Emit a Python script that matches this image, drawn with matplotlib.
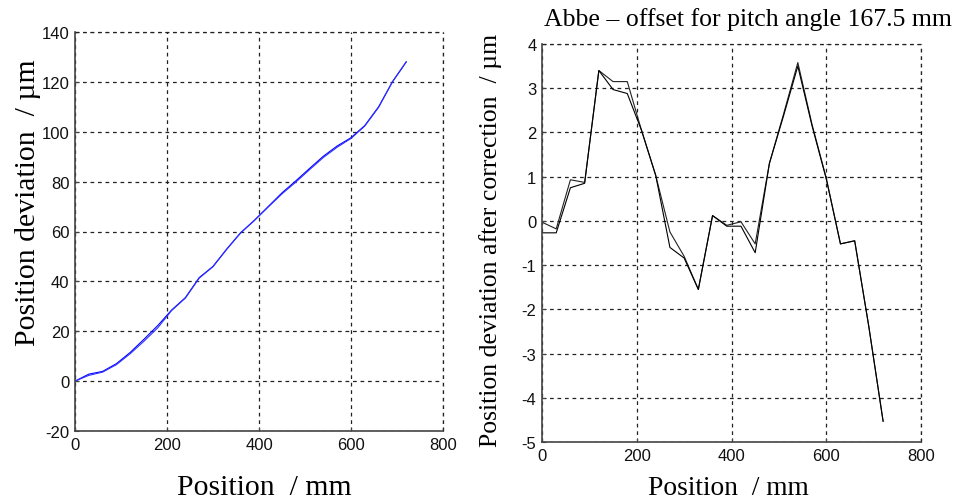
import numpy as np
import matplotlib.pyplot as plt

plt.rcParams['axes.unicode_minus'] = False

# measurement positions (mm)
pos = [0, 30, 60, 90, 120, 150, 180, 210, 240, 270, 300, 330, 360,
       390, 420, 450, 480, 510, 540, 570, 600, 630, 660, 690, 720]

# raw position deviation (um), two runs
dev_run1 = [0.0, 2.8, 3.9, 7.0, 11.5, 16.8, 22.3, 28.5, 33.5, 41.5, 46.0, 53.0, 59.5,
            64.5, 70.0, 75.5, 80.3, 85.3, 90.2, 94.3, 97.6, 102.5, 110.0, 120.0, 128.0]
dev_run2 = [0.0, 2.3, 3.6, 6.6, 11.0, 16.0, 21.4, 28.3, 33.3, 41.3, 45.9, 52.9, 59.4,
            64.4, 69.8, 75.1, 79.8, 84.8, 89.7, 93.8, 97.3, 102.3, 109.8, 120.0, 128.0]

# deviation after Abbe correction (um), two runs
corr_run1 = [-0.03, -0.18, 0.93, 0.87, 3.40, 3.15, 3.15, 2.05, 1.03, -0.25, -0.80, -1.55, 0.12,
             -0.10, -0.02, -0.52, 1.30, 2.42, 3.58, 2.18, 0.97, -0.52, -0.45, -2.40, -4.53]
corr_run2 = [-0.27, -0.27, 0.75, 0.85, 3.40, 2.97, 2.88, 2.05, 1.03, -0.60, -0.84, -1.55, 0.12,
             -0.12, -0.12, -0.72, 1.30, 2.38, 3.50, 2.15, 0.95, -0.52, -0.45, -2.40, -4.53]

W, H = 957, 502
fig = plt.figure(figsize=(W / 100, H / 100), dpi=100)

def px_axes(x0, y0, x1, y1):
    # axes from pixel box (left, top, right, bottom)
    return fig.add_axes([x0 / W, 1 - y1 / H, (x1 - x0) / W, (y1 - y0) / H])

def style(ax):
    for s in ['top', 'right']:
        ax.spines[s].set_visible(False)
    for s in ['left', 'bottom']:
        ax.spines[s].set_color('#444444')
        ax.spines[s].set_linewidth(1.2)
    ax.grid(True, color='#222222', linestyle=(0, (3, 3)), linewidth=0.9)
    ax.tick_params(direction='in', length=3, color='#444444', labelsize=12,
                   labelcolor='#111111', pad=4)
    for lab in ax.get_xticklabels() + ax.get_yticklabels():
        lab.set_family('Liberation Sans')
    ax.set_axisbelow(True)

serif = 'Liberation Serif'

ax1 = px_axes(75, 33, 443, 432)
ax1.plot(pos, dev_run1, color='#0000ff', lw=0.8)
ax1.plot(pos, dev_run2, color='#3030ff', lw=0.8)
ax1.set_xlim(0, 800)
ax1.set_ylim(-20, 140)
ax1.set_xticks(np.arange(0, 801, 200))
ax1.set_yticks(np.arange(-20, 141, 20))
style(ax1)
# close the grid at the upper and right limits
ax1.axhline(140, color='#222222', linestyle=(0, (3, 3)), lw=0.9, clip_on=False)
ax1.axvline(800, color='#222222', linestyle=(0, (3, 3)), lw=0.9, clip_on=False)

ax2 = px_axes(542, 45, 921, 443)
ax2.plot(pos, corr_run1, color='#222222', lw=0.8)
ax2.plot(pos, corr_run2, color='#000000', lw=0.8)
ax2.set_xlim(0, 800)
ax2.set_ylim(-5, 4)
ax2.set_xticks(np.arange(0, 801, 200))
ax2.set_yticks(np.arange(-5, 5, 1))
style(ax2)
ax2.axhline(4, color='#222222', linestyle=(0, (3, 3)), lw=0.9, clip_on=False)
ax2.axvline(800, color='#222222', linestyle=(0, (3, 3)), lw=0.9, clip_on=False)

fig.text(28 / W, 1 - 203 / H, 'Position deviation  / µm', family=serif, size=21.4,
         rotation=90, ha='center', va='center')
fig.text(264 / W, 1 - 488 / H, 'Position  / mm', family=serif, size=21.4,
         ha='center', va='center')
fig.text(491 / W, 1 - 240 / H, 'Position deviation after correction  / µm', family=serif,
         size=18.5, rotation=90, ha='center', va='center')
fig.text(728 / W, 1 - 489 / H, 'Position  / mm', family=serif, size=19.8,
         ha='center', va='center')
fig.text(748 / W, 1 - 20 / H, 'Abbe – offset for pitch angle 167.5 mm', family=serif,
         size=18.5, ha='center', va='center')

fig.savefig('out.png', dpi=100)
